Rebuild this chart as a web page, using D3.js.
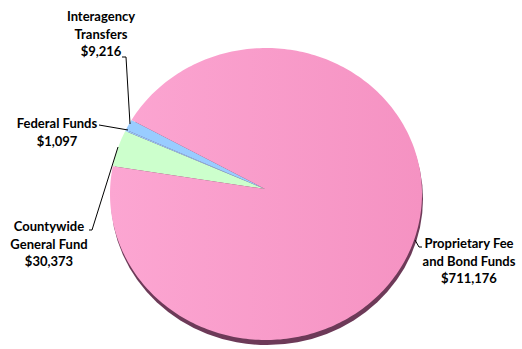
<!DOCTYPE html>
<html>
<head>
<meta charset="utf-8">
<script src="https://cdn.jsdelivr.net/npm/d3@7"></script>
<style>
  html, body { margin: 0; padding: 0; background: #ffffff; }
  svg { display: block; }
  text { font-family: Lato, "Open Sans", sans-serif; font-weight: bold; fill: #000; }
</style>
</head>
<body>
<svg id="chart" width="522" height="349"></svg>
<script>
// ---- data ----
const categories = ["Countywide General Fund", "Federal Funds", "Interagency Transfers", "Proprietary Fee and Bond Funds"];
const values = [30373, 1097, 9216, 711176];
const labelLines = [
  ["Countywide", "General Fund", "$30,373"],
  ["Federal Funds", "$1,097"],
  ["Interagency", "Transfers", "$9,216"],
  ["Proprietary Fee", "and Bond Funds", "$711,176"]
];
const colors = ["#ccffcc", "#99ccff", "#99ccff", "#f99acb"];
const firstSliceAngle = 281; // degrees, clockwise from 12 o'clock

// ---- layout ----
const svg = d3.select("#chart");
const cx = 266, cy = 194, rx = 156, ry = 146;
const apex = [265, 189];

const defs = svg.append("defs");
const grad = defs.append("linearGradient").attr("id", "pinkGrad")
  .attr("x1", "0%").attr("x2", "100%").attr("y1", "0%").attr("y2", "0%");
grad.append("stop").attr("offset", "0%").attr("stop-color", "#fca6d2");
grad.append("stop").attr("offset", "100%").attr("stop-color", "#f592c2");

const a0 = firstSliceAngle * Math.PI / 180;
const pie = d3.pie().sort(null).value(d => d).startAngle(a0).endAngle(a0 + 2 * Math.PI);
const arcs = pie(values);

function pt(a) { return [cx + rx * Math.sin(a), cy - ry * Math.cos(a)]; }

// 3D depth (side)
svg.append("ellipse")
  .attr("cx", cx + 1).attr("cy", cy + 5).attr("rx", rx).attr("ry", ry)
  .attr("fill", "#6d3a58");

function slicePath(d) {
  const p = d3.path();
  p.moveTo(apex[0], apex[1]);
  const s = pt(d.startAngle);
  p.lineTo(s[0], s[1]);
  const n = Math.max(2, Math.ceil((d.endAngle - d.startAngle) / 0.02));
  for (let i = 1; i <= n; i++) {
    const a = d.startAngle + (d.endAngle - d.startAngle) * i / n;
    const q = pt(a);
    p.lineTo(q[0], q[1]);
  }
  p.closePath();
  return p.toString();
}

svg.append("g").selectAll("path")
  .data(arcs)
  .join("path")
  .attr("d", slicePath)
  .attr("fill", (d, i) => i === 3 ? "url(#pinkGrad)" : colors[i])
  .attr("stroke", "none");

// ---- labels ----
const labelPos = [
  { x: 49, y: 231 },
  { x: 57, y: 128 },
  { x: 101, y: 21 },
  { x: 469, y: 248 }
];
const lineH = 17.5;
const lg = svg.append("g");
labelLines.forEach((lines, i) => {
  const t = lg.append("text")
    .attr("x", labelPos[i].x).attr("y", labelPos[i].y)
    .attr("text-anchor", "middle")
    .style("font-size", "13px");
  lines.forEach((ln, j) => {
    t.append("tspan").attr("x", labelPos[i].x).attr("dy", j === 0 ? 0 : lineH).text(ln);
  });
});

// leader lines
const leaders = [
  [[89, 230], [92, 230], [118, 147]],
  [[99, 125], [128, 130]],
  [[122, 57], [126, 57], [130, 124]],
  [[415, 240], [419, 247], [422, 247]]
];
const line = d3.line();
svg.append("g").selectAll("path")
  .data(leaders)
  .join("path")
  .attr("d", line)
  .attr("fill", "none")
  .attr("stroke", "#000")
  .attr("stroke-width", 1);
</script>
</body>
</html>
